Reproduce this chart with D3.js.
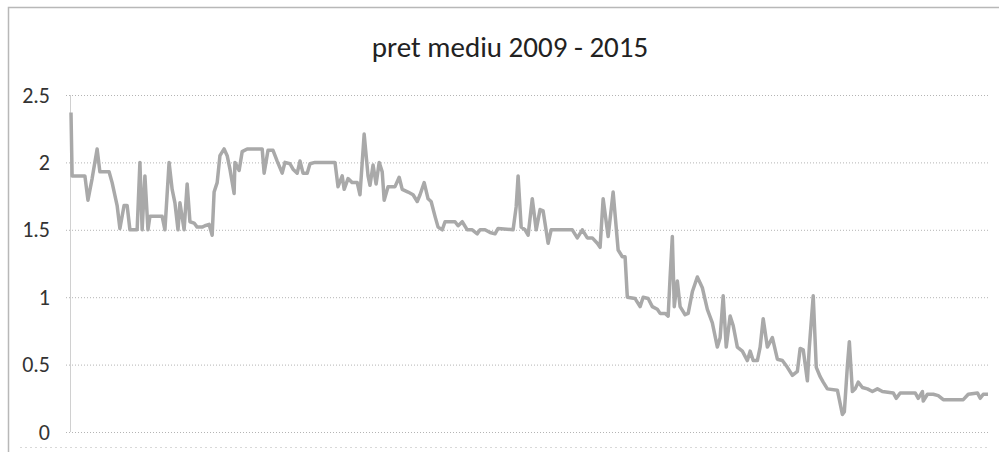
<!DOCTYPE html>
<html>
<head>
<meta charset="utf-8">
<script src="https://cdn.jsdelivr.net/npm/d3@7/dist/d3.min.js"></script>
<style>
  body { margin: 0; background: #fff; }
  svg { display: block; }
  .grid line { stroke: #b4b4b4; stroke-dasharray: 1,2; }
  .grid path { display: none; }
  .axis text { font-family: Carlito, Calibri, Lato, sans-serif; font-size: 22px; fill: #333; }
</style>
</head>
<body>
<script>
  var title = 'pret mediu 2009 - 2015';
  var yTicks = [0, 0.5, 1, 1.5, 2, 2.5];

  // saptamana (week) index, 2009 - 2015
  var weeks = [0, 0.4, 5.0, 6.1, 7.6, 9.4, 10.4, 13.7, 14.8, 16.6, 17.6, 19.1, 20.2, 21.2, 22.7, 23.8,
    24.8, 25.6, 26.6, 27.7, 28.4, 32.8, 33.8, 35.3, 36.4, 37.4, 38.5, 39.2, 40.7, 41.8, 42.8, 44.3,
    45.4, 47.2, 48.2, 49.7, 50.8, 51.5, 52.6, 53.6, 55.1, 56.2, 57.2, 58.7, 59.0, 60.5, 61.6, 63.4,
    68.8, 69.5, 70.9, 72.7, 74.2, 76.0, 77.0, 78.8, 79.9, 81.4, 82.4, 83.5, 85.0, 86.0, 87.8, 95.0,
    96.1, 97.6, 98.3, 99.7, 101.2, 103.0, 104.0, 104.8, 105.5, 106.9, 107.6, 108.7, 109.8, 110.9, 112.0, 112.7,
    114.1, 116.6, 118.1, 119.2, 121.3, 123.1, 124.6, 125.6, 127.1, 128.5, 129.6, 131.0, 132.1, 133.6, 134.6, 138.2,
    139.3, 140.8, 142.6, 144.4, 146.2, 147.2, 149.0, 150.8, 152.6, 153.7, 159.1, 160.2, 160.9, 162.0, 163.4, 164.5,
    166.0, 167.4, 168.8, 169.9, 171.7, 172.8, 180.4, 182.2, 184.0, 185.8, 187.6, 189.4, 190.4, 191.5, 193.3, 195.1,
    196.9, 198.4, 199.4, 200.2, 203.0, 204.8, 205.9, 207.7, 209.2, 211.0, 212.0, 213.8, 214.9, 215.6, 216.4, 217.1,
    218.2, 219.2, 221.0, 222.1, 223.6, 225.4, 227.2, 229.0, 230.8, 232.6, 233.6, 234.7, 235.8, 237.2, 238.3, 239.8,
    241.6, 243.4, 244.4, 245.5, 247.0, 248.0, 249.1, 250.6, 252.4, 254.2, 256.0, 257.8, 259.6, 261.4, 262.4, 263.5,
    265.0, 265.7, 267.1, 268.2, 269.6, 270.7, 272.2, 275.8, 276.5, 277.6, 278.3, 279.4, 280.1, 281.2, 282.2, 283.3,
    284.8, 286.6, 288.4, 290.2, 292.0, 295.9, 297.0, 298.4, 303.8, 304.9, 306.4, 306.7, 308.2, 310.3, 312.1, 313.9,
    321.1, 322.9, 326.2, 327.2, 328.3, 330];

  var prices = [2.37, 1.90, 1.90, 1.72, 1.88, 2.10, 1.93, 1.93, 1.85, 1.68, 1.51, 1.68, 1.68, 1.50, 1.50, 1.50,
    2.00, 1.50, 1.90, 1.50, 1.60, 1.60, 1.50, 2.00, 1.80, 1.70, 1.50, 1.70, 1.50, 1.84, 1.56, 1.55,
    1.52, 1.52, 1.53, 1.54, 1.46, 1.78, 1.85, 2.05, 2.10, 2.05, 1.95, 1.77, 2.00, 1.94, 2.08, 2.10,
    2.10, 1.92, 2.09, 2.09, 2.01, 1.92, 2.00, 1.99, 1.95, 1.92, 2.01, 1.92, 1.92, 1.99, 2.00, 2.00,
    1.82, 1.90, 1.80, 1.88, 1.85, 1.85, 1.76, 2.00, 2.21, 1.90, 1.83, 1.98, 1.84, 2.00, 1.93, 1.72,
    1.82, 1.82, 1.89, 1.80, 1.78, 1.76, 1.71, 1.76, 1.85, 1.73, 1.71, 1.60, 1.52, 1.50, 1.56, 1.56,
    1.53, 1.56, 1.50, 1.50, 1.47, 1.50, 1.50, 1.48, 1.47, 1.51, 1.50, 1.67, 1.90, 1.52, 1.50, 1.46,
    1.73, 1.50, 1.65, 1.64, 1.40, 1.50, 1.50, 1.44, 1.50, 1.44, 1.44, 1.40, 1.37, 1.73, 1.45, 1.78,
    1.35, 1.30, 1.30, 1.00, 0.99, 0.93, 1.00, 0.99, 0.93, 0.91, 0.88, 0.88, 0.86, 1.15, 1.45, 0.93,
    1.12, 0.93, 0.87, 0.88, 1.04, 1.15, 1.07, 0.91, 0.81, 0.63, 0.70, 1.01, 0.63, 0.86, 0.79, 0.63,
    0.60, 0.53, 0.60, 0.53, 0.53, 0.63, 0.84, 0.63, 0.70, 0.54, 0.53, 0.48, 0.42, 0.45, 0.62, 0.61,
    0.38, 0.63, 1.01, 0.48, 0.41, 0.37, 0.32, 0.31, 0.24, 0.13, 0.15, 0.49, 0.67, 0.30, 0.32, 0.37,
    0.33, 0.32, 0.30, 0.32, 0.30, 0.29, 0.25, 0.29, 0.29, 0.25, 0.30, 0.23, 0.28, 0.28, 0.27, 0.24,
    0.24, 0.28, 0.29, 0.25, 0.28, 0.28];

  var data = weeks.map(function(w, i) { return {week: w, price: prices[i]}; });

  var W = 999, H = 452;
  var margin = {top: 95, right: 11, bottom: 20, left: 71},
    width  = W - margin.left - margin.right,
    height = H - margin.top - margin.bottom;

  var x = d3.scaleLinear().domain([0, 330]).range([0, width]);
  var y = d3.scaleLinear().domain([0, 2.5]).range([height, 0]);

  var svg = d3.select('body').append('svg')
    .attr('width', W)
    .attr('height', H);

  // chart border (bottom and right fall outside the scan)
  svg.append('path')
    .attr('d', 'M8.5,' + H + 'V7.5H' + W)
    .attr('fill', 'none')
    .attr('stroke', '#b8b8b8')
    .attr('stroke-width', 1.5);

  svg.append('line')
    .attr('x1', 20).attr('x2', 990)
    .attr('y1', 447.5).attr('y2', 447.5)
    .attr('stroke', '#d8d8d8')
    .attr('stroke-dasharray', '2,3');

  svg.append('text')
    .attr('x', 510)
    .attr('y', 57)
    .attr('text-anchor', 'middle')
    .style('font-family', 'Carlito, Calibri, Lato, sans-serif')
    .style('font-size', '29px')
    .style('fill', '#222')
    .text(title);

  var g = svg.append('g')
    .attr('transform', 'translate(' + margin.left + ',' + margin.top + ')');

  g.append('g')
    .attr('class', 'grid')
    .attr('transform', 'translate(' + width + ',0)')
    .call(d3.axisLeft(y).tickValues(yTicks).tickSize(width + 7).tickFormat(''));

  g.append('line')
    .attr('x1', -0.5).attr('x2', -0.5)
    .attr('y1', 0).attr('y2', height)
    .attr('stroke', '#d0d0d0');

  var yAxis = g.append('g')
    .attr('class', 'axis')
    .call(d3.axisLeft(y).tickValues(yTicks).tickSize(0).tickPadding(21)
      .tickFormat(function(d) { return String(d); }));
  yAxis.select('.domain').remove();

  var line = d3.line()
    .x(function(d) { return x(d.week); })
    .y(function(d) { return y(d.price); });

  g.append('path')
    .datum(data)
    .attr('fill', 'none')
    .attr('stroke', '#a9a9a9')
    .attr('stroke-width', 3.5)
    .attr('stroke-linejoin', 'round')
    .attr('d', line);
</script>
</body>
</html>
